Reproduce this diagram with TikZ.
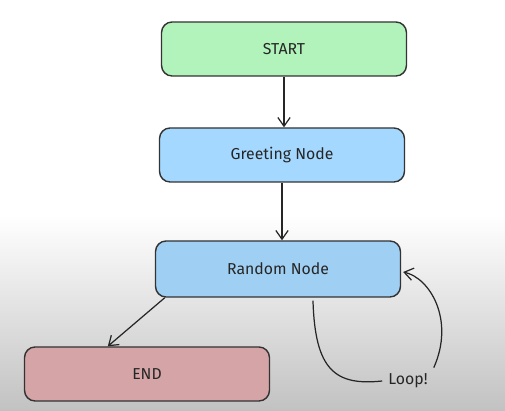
\documentclass[tikz,border=0pt]{standalone}
\usepackage{fontspec}
\setmainfont{Fira Sans}
\usetikzlibrary{arrows.meta,calc}

\definecolor{startgreen}{HTML}{B2F2BB}
\definecolor{greetblue}{HTML}{A5D8FF}
\definecolor{randblue}{HTML}{9FCFF2}
\definecolor{endred}{HTML}{D4A4A7}

\tikzset{
	flowbox/.style = {draw = black!80, line width = 0.8pt, rounded corners = 6pt,
		minimum width = 4.9cm, minimum height = 1.08cm,
		font = \small, text = black!85},
	flowarrow/.style = {draw = black!85, line width = 0.7pt,
		-{Straight Barb[length = 5pt, width = 7pt]}}
}

\begin{document}
\begin{tikzpicture}[x = 0.02cm, y = -0.02cm]
	
	% background
	\fill[white] (0,0) rectangle (505,411);
	\shade[top color = white, bottom color = black!24] (0,215) rectangle (505,411);
	\useasboundingbox (0,0) rectangle (505,411);
	
	\node [flowbox, fill = startgreen] (start) at (284,49) {START};
	\node [flowbox, fill = greetblue] (greet) at (282,155) {Greeting Node};
	\node [flowbox, fill = randblue,
		   minimum height = 1.12cm] (random) at (278,269) {Random Node};
	\node [flowbox, fill = endred] (end) at (147,374) {END};
	
	\node [font = \small, text = black!85] (loop) at (408,381) {Loop!};
	
	\draw[flowarrow] (start.south) -- (start.south |- greet.north);
	\draw[flowarrow] (greet.south) -- (greet.south |- random.north);
	\draw[flowarrow] ($(random.south west)+(10,0)$) -- ($(end.north west)+(84,0)$);
	
	% loop back
	\draw[black!85, line width = 0.7pt]
		($(random.south)+(35,3)$) .. controls (315,370) and (335,386) .. (loop.west);
	\draw[flowarrow]
		(loop.north east) .. controls (455,320) and (430,278) .. ($(random.east)+(2,3)$);
	
\end{tikzpicture}
\end{document}
